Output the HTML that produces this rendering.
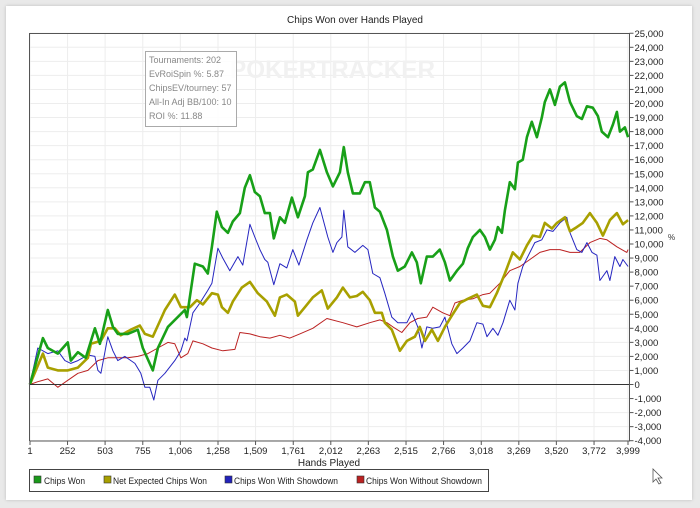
<!DOCTYPE html>
<html><head><meta charset="utf-8"><style>
body{margin:0;width:700px;height:508px;background:#e9e9e9;font-family:"Liberation Sans",sans-serif;overflow:hidden}
#card{position:absolute;left:6px;top:6px;width:686px;height:494px;background:#fff;box-shadow:0 0 3px #bbb}
</style></head><body>
<div id="card"></div>
<svg id="chart" width="700" height="508" style="position:absolute;left:0;top:0">
<text x="355" y="23" text-anchor="middle" font-size="10" fill="#222">Chips Won over Hands Played</text>
<g id="grid"></g>
<text x="230" y="78" font-size="25" font-weight="bold" fill="#f1f1f1" textLength="205" lengthAdjust="spacingAndGlyphs">POKERTRACKER</text>
<g id="series"></g>
<g id="axes"></g>
<g>
<rect x="145.5" y="51.5" width="91" height="75" fill="#fff" fill-opacity="0.85" stroke="#aaa"/>
<g font-size="9" fill="#888">
<text x="149" y="63">Tournaments: 202</text>
<text x="149" y="77">EvRoiSpin %: 5.87</text>
<text x="149" y="91">ChipsEV/tourney: 57</text>
<text x="149" y="105">All-In Adj BB/100: 10</text>
<text x="149" y="119">ROI %: 11.88</text>
</g></g>
<text x="668" y="240" font-size="8" fill="#333">%</text>
<text x="329" y="466" text-anchor="middle" font-size="10" fill="#222">Hands Played</text>
<g>
<rect x="29.5" y="469.5" width="459" height="22" fill="#fff" stroke="#444"/>
<g font-size="9.5" fill="#222">
<rect x="34" y="476" width="7" height="7" fill="#1a9a1a" stroke="#333" stroke-width="0.6"/><text x="44" y="484" textLength="41" lengthAdjust="spacingAndGlyphs">Chips Won</text>
<rect x="104" y="476" width="7" height="7" fill="#a8a000" stroke="#333" stroke-width="0.6"/><text x="113" y="484" textLength="94" lengthAdjust="spacingAndGlyphs">Net Expected Chips Won</text>
<rect x="225" y="476" width="7" height="7" fill="#2222bb" stroke="#333" stroke-width="0.6"/><text x="234" y="484" textLength="104" lengthAdjust="spacingAndGlyphs">Chips Won With Showdown</text>
<rect x="357" y="476" width="7" height="7" fill="#bb2222" stroke="#333" stroke-width="0.6"/><text x="366" y="484" textLength="116" lengthAdjust="spacingAndGlyphs">Chips Won Without Showdown</text>
</g></g>
<polygon points="653,469 653,482 656,479 659,484 661,483 658,478 662,478" fill="#fff" stroke="#555" stroke-width="0.8"/>
</svg>
<script>
const xTicks=[1,252,503,755,1006,1258,1509,1761,2012,2263,2515,2766,3018,3269,3520,3772,3999];
const yTicks=[-4000,-3000,-2000,-1000,0,1000,2000,3000,4000,5000,6000,7000,8000,9000,10000,11000,12000,13000,14000,15000,16000,17000,18000,19000,20000,21000,22000,23000,24000,25000];
const greenHands=[0,87,120,187,254,274,321,374,435,468,521,555,588,655,722,755,822,856,923,1036,1050,1103,1157,1190,1217,1250,1284,1324,1357,1404,1437,1471,1504,1538,1571,1605,1631,1672,1705,1752,1792,1839,1859,1892,1939,1986,2026,2073,2099,2126,2160,2206,2240,2273,2307,2340,2387,2427,2460,2507,2554,2587,2614,2654,2694,2741,2775,2808,2855,2895,2928,2962,3009,3042,3076,3109,3129,3156,3176,3209,3243,3263,3296,3323,3356,3390,3423,3443,3477,3510,3544,3577,3611,3657,3691,3724,3764,3798,3824,3865,3898,3925,3945,3978,4000];
const greenVals=[0,3.3,2.6,2.2,3.0,1.7,2.3,1.9,4.0,2.9,5.3,4.1,3.6,3.6,3.9,2.6,1.0,2.6,4.1,5.3,4.8,8.6,8.4,7.9,9.8,12.3,11.2,10.8,11.6,12.2,14.0,14.9,13.7,13.4,12.2,12.2,10.4,11.9,11.5,13.3,11.9,13.4,15.1,15.3,16.7,15.1,14.1,15.1,16.9,15.1,13.6,13.6,14.4,14.4,12.6,12.3,11.0,9.1,8.1,8.4,9.4,8.7,7.2,9.1,9.1,9.6,8.7,7.4,8.1,8.6,9.7,10.5,11.0,10.5,9.6,10.3,11.2,10.8,12.4,14.4,13.9,15.8,16.0,17.6,18.7,17.6,19.0,20.1,21.0,19.9,21.2,21.5,20.1,19.1,18.9,19.8,19.7,19.1,18.0,17.6,18.5,19.4,18.0,18.3,17.6];
const yellowHands=[0,87,120,187,254,321,388,408,475,521,568,608,675,735,769,822,856,903,969,1010,1070,1117,1157,1217,1257,1284,1324,1357,1417,1471,1524,1585,1638,1672,1718,1772,1792,1839,1892,1952,1992,2053,2093,2140,2186,2226,2273,2307,2353,2373,2420,2474,2521,2574,2607,2641,2688,2728,2775,2821,2875,2928,2989,3029,3076,3122,3176,3229,3276,3323,3363,3410,3443,3490,3524,3577,3611,3657,3697,3744,3791,3831,3878,3925,3965,4000];
const yellowVals=[0,2.2,1.2,1.0,1.0,1.2,1.9,2.9,3.1,4.0,4.0,3.5,3.9,4.2,3.6,3.4,4.2,5.3,6.4,5.5,5.5,6.0,5.7,6.5,6.4,5.5,5.1,5.9,6.9,7.3,6.5,5.9,4.9,6.2,6.4,5.9,4.9,5.5,6.2,6.7,5.4,6.2,6.9,6.2,6.3,6.6,6.0,5.1,5.1,4.4,3.9,2.4,3.1,3.4,4.1,3.1,3.9,3.1,4.1,4.9,5.8,6.1,6.4,5.6,5.5,6.5,7.9,9.4,8.9,9.9,10.6,10.5,11.5,11.1,11.5,11.9,10.9,11.2,11.5,12.2,11.5,10.6,11.7,12.2,11.4,11.7];
const blueHands=[0,53,120,187,234,274,321,388,435,455,475,521,555,588,635,702,742,769,802,829,856,903,969,1010,1036,1050,1090,1137,1190,1217,1257,1290,1337,1391,1424,1471,1504,1538,1571,1591,1631,1672,1718,1758,1799,1852,1892,1939,1992,2026,2053,2086,2099,2126,2173,2226,2260,2293,2340,2373,2420,2460,2521,2554,2594,2621,2654,2694,2741,2775,2821,2855,2895,2942,2989,3029,3056,3096,3129,3163,3209,3243,3263,3296,3343,3376,3423,3457,3497,3544,3590,3611,3657,3691,3724,3758,3791,3811,3858,3878,3911,3945,3965,4000];
const blueVals=[0,2.6,2.2,2.4,1.7,1.5,1.7,2.1,2.0,1.0,0.8,3.4,2.4,1.7,2.0,1.5,0.8,-0.2,-0.2,-1.1,0.3,0.8,1.7,2.4,3.3,3.1,5.1,5.8,6.7,7.2,9.7,9.0,8.1,9.1,8.5,11.4,10.5,9.6,8.9,8.7,7.1,8.6,8.3,9.6,8.5,10.3,11.5,12.6,10.5,9.4,10.1,10.5,12.4,9.8,9.4,9.9,9.6,7.9,7.6,6.5,4.8,4.4,4.4,5.1,4.1,2.6,4.1,4.0,4.1,4.8,2.9,2.2,2.6,3.1,4.4,4.3,3.4,4.0,3.5,4.4,6.0,5.3,7.2,8.4,9.4,10.1,10.3,11.0,10.9,11.5,11.9,10.8,9.6,9.4,10.1,9.4,9.2,7.4,8.1,7.4,9.1,8.4,8.9,8.4];
const redHands=[0,53,120,187,254,321,388,455,521,655,722,789,856,923,969,1010,1056,1090,1157,1217,1290,1371,1404,1471,1538,1605,1672,1738,1805,1892,1986,2093,2186,2273,2340,2387,2427,2487,2541,2594,2654,2694,2761,2808,2842,2895,2962,3029,3076,3142,3209,3276,3343,3410,3477,3544,3611,3677,3744,3811,3858,3925,3991,4000];
const redVals=[0,0.2,0.4,-0.2,0.3,0.8,1.0,1.7,1.9,1.9,2.0,2.2,2.6,3.0,2.9,1.9,2.2,3.1,2.9,2.6,2.4,2.5,3.7,3.6,3.4,3.3,3.5,3.3,3.6,4.0,4.7,4.4,4.1,4.4,4.6,4.4,4.1,3.7,4.4,4.7,4.8,5.5,5.1,4.9,5.8,6.0,6.1,6.4,6.5,7.2,8.1,8.4,8.9,9.4,9.6,9.6,9.4,9.4,10.1,10.4,10.3,9.8,9.4,9.6];

const L=29.5,R=629.5,T=33.5,B=441;
const xs=h=>30+(h-1)/3998*598;
const ys=v=>384.5-v/1000*14.05;
const NS='http://www.w3.org/2000/svg';
function mk(tag,attrs,parent){const e=document.createElementNS(NS,tag);for(const k in attrs)e.setAttribute(k,attrs[k]);parent.appendChild(e);return e;}
const grid=document.getElementById('grid'),axes=document.getElementById('axes'),ser=document.getElementById('series');
yTicks.forEach(v=>{const y=ys(v);
 const g=mk('line',{x1:L,x2:R,y1:y,y2:y,stroke:'#ededed'},grid);
 
 
 const tk=mk('line',{x1:R,x2:R+4,y1:y,y2:y,stroke:'#555'},axes);
 
 
 const t=mk('text',{x:R+5,y:y+3.5,'font-size':'9.5',fill:'#222'},axes);
 t.textContent=v.toLocaleString('en-US');
 
 
});
xTicks.forEach(h=>{const x=xs(h);
 const g=mk('line',{x1:x,x2:x,y1:T,y2:B,stroke:'#ededed'},grid);
 
 
 const tk=mk('line',{x1:x,x2:x,y1:B,y2:B+4,stroke:'#555'},axes);
 
 
 const t=mk('text',{x:x,y:B+13,'font-size':'9.5',fill:'#222','text-anchor':'middle'},axes);
 t.textContent=h.toLocaleString('en-US');
 
 
});
const z=mk('line',{x1:L,x2:R,y1:ys(0),y2:ys(0),stroke:'#333'},axes);


const fr=mk('path',{d:`M${L},${B}V${T}H${R}V${B}H${L}`,fill:'none',stroke:'#555'},axes);


function line(hs,vs,color,w,name){
 const d=hs.map((h,i)=>(i?'L':'M')+xs(h).toFixed(1)+','+ys(vs[i]*1000).toFixed(1)).join('');
 const p=mk('path',{d:d,fill:'none',stroke:color,'stroke-width':w,'stroke-linejoin':'round'},ser);
 
 
}
line(redHands,redVals,'#bb2222',1,'chips-won-without-showdown-line');
line(blueHands,blueVals,'#2626c0',1,'chips-won-with-showdown-line');
line(yellowHands,yellowVals,'#a8a000',2.6,'net-expected-chips-won-line');
line(greenHands,greenVals,'#18a018',2.6,'chips-won-line');
</script>
</body></html>
